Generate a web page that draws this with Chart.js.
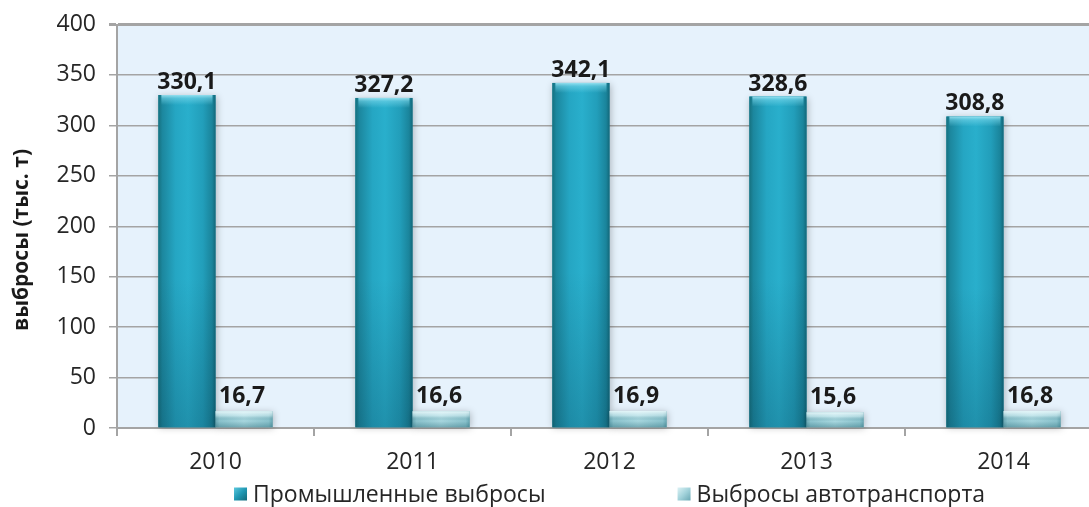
<!DOCTYPE html>
<html>
<head>
<meta charset="utf-8">
<script src="https://cdn.jsdelivr.net/npm/chart.js@4"></script>
<style>
  html, body { margin: 0; padding: 0; background: #ffffff; overflow: hidden; }
  #wrap { width: 1110px; height: 507px; }
</style>
</head>
<body>
<div id="wrap"><canvas id="c" width="1110" height="507"></canvas></div>
<script>
// Emissions by year, thousand tonnes
const years = ['2010', '2011', '2012', '2013', '2014'];
const industrial = [330.1, 327.2, 342.1, 328.6, 308.8];
const transport = [16.7, 16.6, 16.9, 15.6, 16.8];
const seriesNames = ['Промышленные выбросы', 'Выбросы автотранспорта'];
const yAxisTitle = 'выбросы (тыс. т)';
const yMin = 0, yMax = 400, yStep = 50;

const FONT = "'Open Sans', 'Noto Sans', sans-serif";
const TEXT = '#262626';
const GRID = '#A4A4A4';

const fmt = v => v.toFixed(1).replace('.', ',');

// light blue plot background
const plotBg = {
  id: 'plotBg',
  beforeDraw(chart) {
    const { ctx, chartArea: a } = chart;
    ctx.save();
    ctx.fillStyle = '#E6F2FC';
    ctx.fillRect(a.left, a.top, a.right - a.left, a.bottom - a.top);
    ctx.restore();
  }
};

// glossy shading over each bar, using the bar element geometry
function shadeBar(ctx, el, kind) {
  const x0 = el.x - el.width / 2, x1 = el.x + el.width / 2;
  const top = Math.min(el.y, el.base), bot = Math.max(el.y, el.base);
  const h = bot - top, w = x1 - x0;
  ctx.save();
  ctx.shadowColor = 'rgba(0,0,0,0.25)';
  ctx.shadowBlur = 7;
  ctx.shadowOffsetX = 1;
  ctx.shadowOffsetY = 1;
  const g = ctx.createLinearGradient(x0, 0, x1, 0);
  if (kind === 0) {
    g.addColorStop(0, '#16717F');
    g.addColorStop(0.07, '#1C879E');
    g.addColorStop(0.3, '#25A6C3');
    g.addColorStop(0.52, '#29AFCC');
    g.addColorStop(0.78, '#229EBA');
    g.addColorStop(0.94, '#1A849B');
    g.addColorStop(1, '#13687A');
  } else {
    g.addColorStop(0, '#6AA8B4');
    g.addColorStop(0.07, '#8CC4CE');
    g.addColorStop(0.5, '#A9D8E0');
    g.addColorStop(0.93, '#8CC4CE');
    g.addColorStop(1, '#6AA8B4');
  }
  ctx.fillStyle = g;
  ctx.fillRect(x0, top, w, h);
  ctx.shadowColor = 'transparent';
  ctx.shadowBlur = 0;
  ctx.shadowOffsetX = 0;
  ctx.shadowOffsetY = 0;

  if (kind === 0) {
    // darker toward the base
    const v = ctx.createLinearGradient(0, top, 0, bot);
    v.addColorStop(0, 'rgba(0,40,60,0)');
    v.addColorStop(0.55, 'rgba(0,40,60,0)');
    v.addColorStop(1, 'rgba(0,40,60,0.22)');
    ctx.fillStyle = v;
    ctx.fillRect(x0, top, w, h);
    // bevelled cap
    const capH = Math.min(10, h);
    const c = ctx.createLinearGradient(0, top, 0, top + capH);
    c.addColorStop(0, 'rgba(170,235,248,0.85)');
    c.addColorStop(0.35, 'rgba(120,215,235,0.55)');
    c.addColorStop(1, 'rgba(120,215,235,0)');
    ctx.fillStyle = c;
    ctx.fillRect(x0 + 3, top, w - 6, capH);
  } else {
    const v = ctx.createLinearGradient(0, top, 0, bot);
    v.addColorStop(0, 'rgba(240,252,254,0.85)');
    v.addColorStop(0.3, 'rgba(240,252,254,0.35)');
    v.addColorStop(0.6, 'rgba(0,70,85,0)');
    v.addColorStop(1, 'rgba(0,70,85,0.3)');
    ctx.fillStyle = v;
    ctx.fillRect(x0, top, w, h);
  }
  ctx.restore();
}

const barShading = {
  id: 'barShading',
  afterDatasetsDraw(chart) {
    const { ctx } = chart;
    chart.data.datasets.forEach((ds, di) => {
      const meta = chart.getDatasetMeta(di);
      if (meta.hidden) return;
      meta.data.forEach(el => shadeBar(ctx, el, di));
    });
    // value labels above the bars
    ctx.save();
    ctx.font = `bold 23px ${FONT}`;
    ctx.fillStyle = '#1A1A1A';
    ctx.textAlign = 'center';
    ctx.textBaseline = 'alphabetic';
    chart.data.datasets.forEach((ds, di) => {
      const meta = chart.getDatasetMeta(di);
      meta.data.forEach((el, i) => {
        const off = di === 0 ? 6 : 8;
        const dx = di === 0 ? 0 : -2;
        ctx.fillText(fmt(ds.data[i]), el.x + dx, el.y - off);
      });
    });
    ctx.restore();
  }
};

// rotated axis title and the legend row
const extras = {
  id: 'extras',
  afterDraw(chart) {
    const { ctx, chartArea: a } = chart;
    ctx.save();
    ctx.translate(22, 240);
    ctx.rotate(-Math.PI / 2);
    ctx.font = `bold 21px ${FONT}`;
    ctx.fillStyle = '#1A1A1A';
    ctx.textAlign = 'center';
    ctx.textBaseline = 'middle';
    ctx.fillText(yAxisTitle, 0, 0);
    ctx.restore();

    ctx.save();
    ctx.font = `23px ${FONT}`;
    ctx.textBaseline = 'middle';
    ctx.textAlign = 'left';
    const box = 13, gapText = 6, gapItem = 132;
    const items = chart.data.datasets.map((ds, i) => ({ text: ds.label, w: ctx.measureText(ds.label).width, i }));
    const total = items.reduce((s, it) => s + box + gapText + it.w, 0) + gapItem * (items.length - 1);
    let x = (a.left + a.right) / 2 - total / 2;
    const cy = 494;
    items.forEach(it => {
      const g = ctx.createLinearGradient(x, cy - box / 2, x + box, cy + box / 2);
      if (it.i === 0) {
        g.addColorStop(0, '#5CC8DE'); g.addColorStop(0.5, '#2098B3'); g.addColorStop(1, '#136878');
      } else {
        g.addColorStop(0, '#DDF2F5'); g.addColorStop(0.5, '#A3D3DB'); g.addColorStop(1, '#6AA8B4');
      }
      ctx.fillStyle = g;
      ctx.fillRect(x, cy - box / 2, box, box);
      ctx.fillStyle = TEXT;
      ctx.fillText(it.text, x + box + gapText, cy + 1);
      x += box + gapText + it.w + gapItem;
    });
    ctx.restore();
  }
};

new Chart(document.getElementById('c'), {
  type: 'bar',
  data: {
    labels: years,
    datasets: [
      { label: seriesNames[0], data: industrial, backgroundColor: '#23A0BC', borderWidth: 0,
        categoryPercentage: 0.58, barPercentage: 1.0 },
      { label: seriesNames[1], data: transport, backgroundColor: '#A2D2DA', borderWidth: 0,
        categoryPercentage: 0.58, barPercentage: 1.0 }
    ]
  },
  options: {
    responsive: false,
    animation: false,
    layout: { padding: { top: 24, right: 8, bottom: 27, left: 0 } },
    plugins: {
      legend: { display: false },
      tooltip: { enabled: false },
      title: { display: false }
    },
    scales: {
      y: {
        min: yMin, max: yMax,
        ticks: { stepSize: yStep, font: { family: FONT, size: 23, lineHeight: 1.0 }, color: TEXT, padding: 13 },
        grid: {
          color: GRID,
          lineWidth: c => (c.tick && c.tick.value === yMax ? 3 : 1.5),
          tickLength: 8
        },
        border: { display: true, color: GRID, width: 2 },
        afterFit: s => { s.width = 117; }
      },
      x: {
        ticks: { font: { family: FONT, size: 23 }, color: TEXT, padding: 13, maxRotation: 0 },
        grid: { offset: true, drawOnChartArea: false, drawTicks: true, tickLength: 8, color: GRID, lineWidth: 2 },
        border: { display: true, color: GRID, width: 2 },
        afterFit: s => { s.height = 52; }
      }
    }
  },
  plugins: [plotBg, barShading, extras]
});
</script>
</body>
</html>
